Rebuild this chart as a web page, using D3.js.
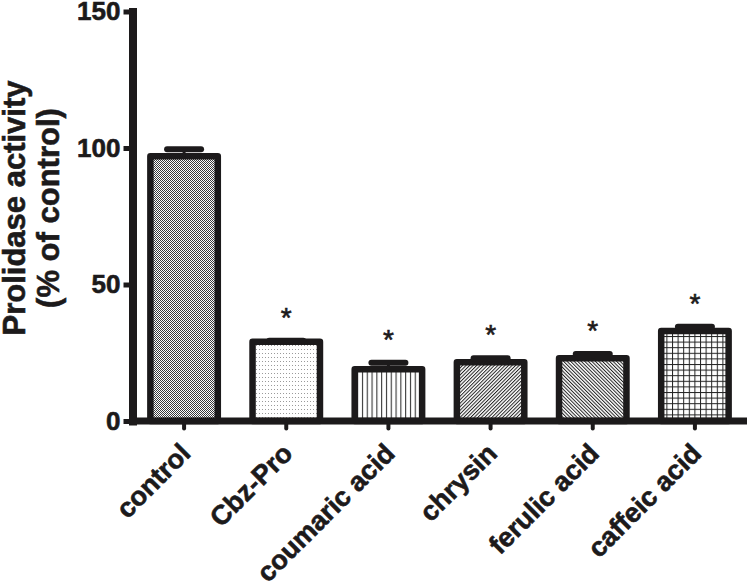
<!DOCTYPE html>
<html><head><meta charset="utf-8">
<script src="https://cdn.jsdelivr.net/npm/d3@7"></script>
<style>body{margin:0;background:#fff} svg{display:block}</style>
</head><body>
<svg id="chart" width="750" height="587"></svg>
<script>
const categories = ["control", "Cbz-Pro", "coumaric acid", "chrysin", "ferulic acid", "caffeic acid"];
const means = [97, 29, 19, 21.5, 23, 33];
const errors = [2.5, 0.4, 2.3, 1.5, 1.5, 1.5];
const significant = [false, true, true, true, true, true];
const fills = ["checker", "dots", "vlines", "diagUp", "diagDown", "grid"];
const yTicks = [0, 50, 100, 150];
const yTitle = ["Prolidase activity", "(% of control)"];

const INK = "#1c1a1b";
const FONT = "'Liberation Sans', Arial, Helvetica, sans-serif";
const svg = d3.select("#chart");

// ---- patterns ----
const defs = svg.append("defs");
function pat(id, w, h, tr) {
  const p = defs.append("pattern").attr("id", id).attr("patternUnits", "userSpaceOnUse")
    .attr("width", w).attr("height", h);
  if (tr) p.attr("patternTransform", tr);
  p.append("rect").attr("width", w).attr("height", h).attr("fill", "#fff");
  return p;
}
let p = pat("checker", 2, 2);
p.append("rect").attr("x", 0).attr("y", 0).attr("width", 1).attr("height", 1).attr("fill", "#3a3a3a");
p.append("rect").attr("x", 1).attr("y", 1).attr("width", 1).attr("height", 1).attr("fill", "#3a3a3a");
p = pat("dots", 3, 4);
p.append("rect").attr("x", 1).attr("y", 1).attr("width", 1).attr("height", 1).attr("fill", "#9a9a9a");
p = pat("vlines", 4.8, 10);
p.append("rect").attr("x", 2).attr("y", 0).attr("width", 1).attr("height", 10).attr("fill", "#222");
p = pat("diagUp", 2.5, 10, "rotate(45)");
p.append("rect").attr("x", 0).attr("y", 0).attr("width", 1).attr("height", 10).attr("fill", "#222");
p = pat("diagDown", 2.5, 10, "rotate(-45)");
p.append("rect").attr("x", 0).attr("y", 0).attr("width", 1).attr("height", 10).attr("fill", "#222");
p = pat("grid", 5.6, 5.6);
p.append("rect").attr("x", 0).attr("y", 0).attr("width", 1).attr("height", 5.6).attr("fill", "#222");
p.append("rect").attr("x", 0).attr("y", 0).attr("width", 5.6).attr("height", 1).attr("fill", "#222");

// ---- scales ----
const x = d3.scaleBand().domain(categories).range([133, 746]).paddingInner(0.34).paddingOuter(0.17);
const y = d3.scaleLinear().domain([0, 150]).range([421, 11.5]);

const data = categories.map((c, i) => ({c, m: means[i], e: errors[i], s: significant[i], f: fills[i]}));

// ---- bars ----
svg.append("g").selectAll("rect").data(data).join("rect")
  .attr("x", d => x(d.c))
  .attr("y", d => y(d.m))
  .attr("width", x.bandwidth())
  .attr("height", d => y(0) - y(d.m))
  .attr("fill", d => `url(#${d.f})`)
  .attr("stroke", INK).attr("stroke-width", 6.5).attr("stroke-linejoin", "round");

// ---- error bars ----
const eb = svg.append("g").attr("stroke", INK);
eb.selectAll("line.v").data(data).join("line").attr("class", "v")
  .attr("x1", d => x(d.c) + x.bandwidth() / 2).attr("x2", d => x(d.c) + x.bandwidth() / 2)
  .attr("y1", d => y(d.m)).attr("y2", d => y(d.m + d.e)).attr("stroke-width", 3);
eb.selectAll("line.cap").data(data).join("line").attr("class", "cap")
  .attr("x1", d => x(d.c) + x.bandwidth() / 2 - 17).attr("x2", d => x(d.c) + x.bandwidth() / 2 + 17)
  .attr("y1", d => y(d.m + d.e)).attr("y2", d => y(d.m + d.e))
  .attr("stroke-width", 6).attr("stroke-linecap", "round");

// ---- asterisks ----
svg.append("g").selectAll("text").data(data.filter(d => d.s)).join("text")
  .attr("x", d => x(d.c) + x.bandwidth() / 2)
  .attr("y", d => y(d.m + d.e) - 30 + 16)
  .attr("text-anchor", "middle")
  .attr("font-family", FONT).attr("font-size", 28).attr("fill", INK)
  .attr("stroke", INK).attr("stroke-width", 0.6)
  .text("*");

// ---- y axis ----
const ya = svg.append("g").attr("transform", "translate(132.5,0)")
  .call(d3.axisLeft(y).tickValues(yTicks).tickFormat(d3.format("d")).tickSize(9).tickSizeOuter(0).tickPadding(3));
ya.select(".domain").attr("stroke", INK).attr("stroke-width", 8).attr("stroke-linecap", "square");
ya.selectAll(".tick line").attr("stroke", INK).attr("stroke-width", 5);
ya.selectAll(".tick text").attr("font-family", FONT).attr("font-size", 26).attr("font-weight", "bold")
  .attr("fill", INK).attr("stroke", INK).attr("stroke-width", 0.6);

// ---- x axis ----
const xa = svg.append("g").attr("transform", "translate(0,421)");
xa.append("line").attr("x1", 129).attr("x2", 747).attr("y1", 0).attr("y2", 0)
  .attr("stroke", INK).attr("stroke-width", 7);
xa.selectAll("line.t").data(categories).join("line").attr("class", "t")
  .attr("x1", d => x(d) + x.bandwidth() / 2).attr("x2", d => x(d) + x.bandwidth() / 2)
  .attr("y1", 3).attr("y2", 7.5).attr("stroke", INK).attr("stroke-width", 4).attr("stroke-linecap", "round");
xa.selectAll("text").data(categories).join("text")
  .attr("transform", d => `translate(${x(d) + x.bandwidth() / 2 + 8},34) rotate(-45)`)
  .attr("text-anchor", "end")
  .attr("font-family", FONT).attr("font-size", 27).attr("font-weight", "bold").attr("fill", INK)
  .attr("stroke", INK).attr("stroke-width", 0.6)
  .text(d => d);

// ---- y title ----
const yt = svg.append("text").attr("transform", "translate(1,208) rotate(-90)")
  .attr("text-anchor", "middle").attr("font-family", FONT).attr("font-size", 31)
  .attr("font-weight", "bold").attr("fill", INK).attr("stroke", INK).attr("stroke-width", 0.6);
yt.selectAll("tspan").data(yTitle).join("tspan")
  .attr("x", 0).attr("y", (d, i) => i === 0 ? 24 : 57.5).text(d => d);
</script>
</body></html>
